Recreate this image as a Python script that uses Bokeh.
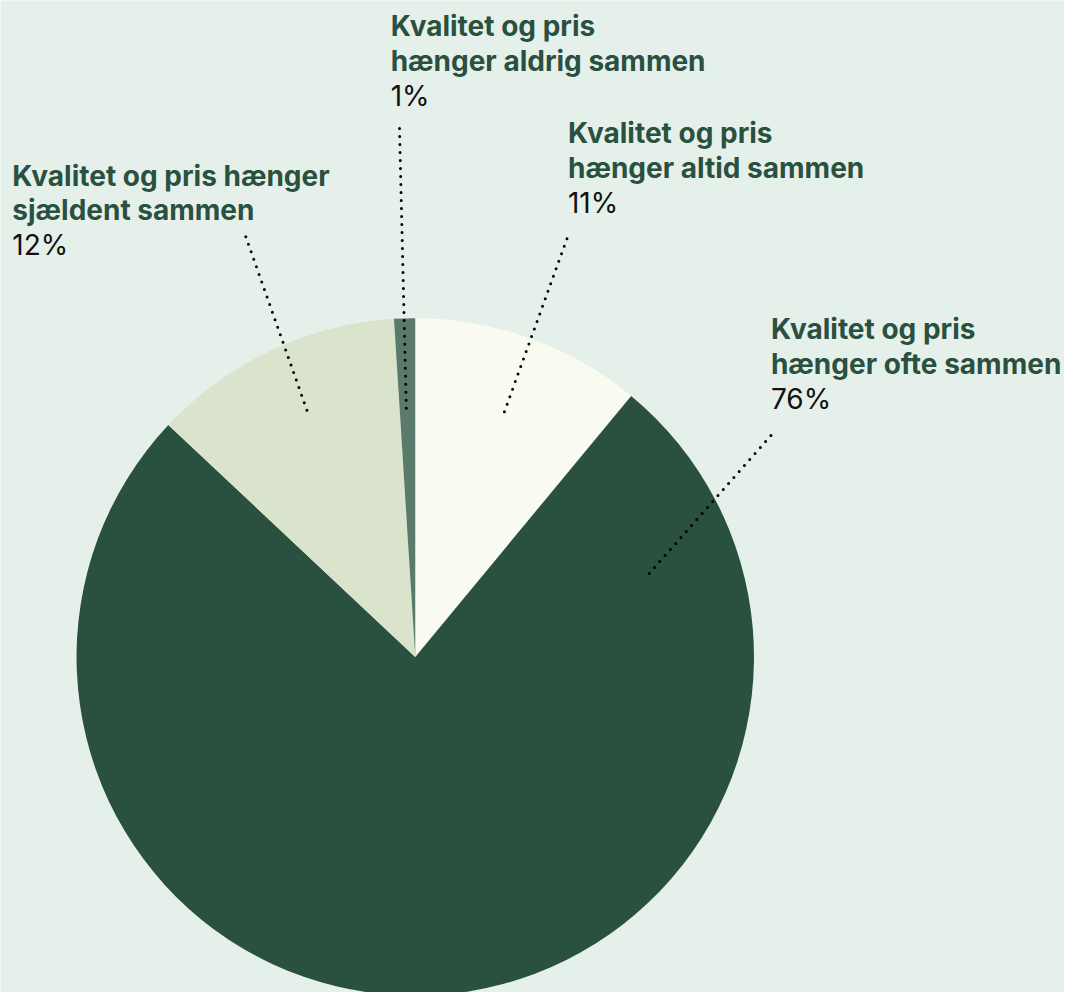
import numpy as np
from bokeh.plotting import figure
from bokeh.models import Range1d, ColumnDataSource
from bokeh.core.properties import value
from bokeh.embed import file_html
from bokeh.resources import INLINE

# ---- data ----
categories = ["Kvalitet og pris hænger altid sammen",
              "Kvalitet og pris hænger ofte sammen",
              "Kvalitet og pris hænger sjældent sammen",
              "Kvalitet og pris hænger aldrig sammen"]
title_lines = [["Kvalitet og pris", "hænger altid sammen"],
               ["Kvalitet og pris", "hænger ofte sammen"],
               ["Kvalitet og pris hænger", "sjældent sammen"],
               ["Kvalitet og pris", "hænger aldrig sammen"]]
shares = [11, 76, 12, 1]
pct_labels = ["11%", "76%", "12%", "1%"]
colors = ["#f9fbf1", "#2a5040", "#dae3cc", "#5a7a6b"]

BG = "#e6f0ea"
TITLE_COLOR = "#2a5040"
FONT = "Inter"

W, H = 1064, 992
SX = W / 1080.0
SY = H / 1008.0
S = (SX + SY) / 2
TEXT_SHIFT = 10  # px upward correction for text baseline


def X(sx):
    return sx * SX


def Y(sy):
    return H - sy * SY


p = figure(width=W, height=H, output_backend="svg", toolbar_location=None,
           x_range=Range1d(0, W), y_range=Range1d(0, H),
           min_border=0, border_fill_color=BG, background_fill_color=BG)
p.axis.visible = False
p.grid.visible = False
p.outline_line_color = None

vals = np.array(shares, dtype=float)
frac = vals / vals.sum()
cum = np.concatenate([[0.0], np.cumsum(frac)])
start = np.pi / 2 - 2 * np.pi * cum[:-1]
end = np.pi / 2 - 2 * np.pi * cum[1:]

src = ColumnDataSource(dict(x=[X(421)] * len(vals), y=[Y(667)] * len(vals),
                            start=start, end=end, color=colors, cat=categories))
p.wedge(x="x", y="y", radius=344 * S, start_angle="start", end_angle="end",
        direction="clock", fill_color="color", line_color=None, source=src)

# label layout (reference coords): left x, first baseline
label_pos = [(576, 145), (782, 344), (12, 188), (396, 36)]
line_step = 35.5
leaders = [((575, 242), (510, 422)),
           ((782, 442), (656, 585)),
           ((249, 240), (313, 422)),
           ((405, 130), (412, 418))]
fs = "%dpx" % round(28 * S)

for i in range(len(shares)):
    lx, by = label_pos[i]
    for j, t in enumerate(title_lines[i]):
        p.text(x=[X(lx)], y=[Y(by + j * line_step) + TEXT_SHIFT], text=[t],
               text_font=value(FONT), text_font_style="bold",
               text_font_size=fs, text_color=TITLE_COLOR,
               text_baseline="alphabetic", text_align="left")
    p.text(x=[X(lx)], y=[Y(by + 2 * line_step) + TEXT_SHIFT], text=[pct_labels[i]],
           text_font=value(FONT), text_font_size=fs, text_color="#111111",
           text_baseline="alphabetic", text_align="left")
    (x0, y0), (x1, y1) = leaders[i]
    p.line(x=[X(x0), X(x1)], y=[Y(y0), Y(y1)], line_color="#000000",
           line_width=3, line_dash="0 8", line_cap="round")

open("out.html", "w").write(file_html(p, INLINE))
